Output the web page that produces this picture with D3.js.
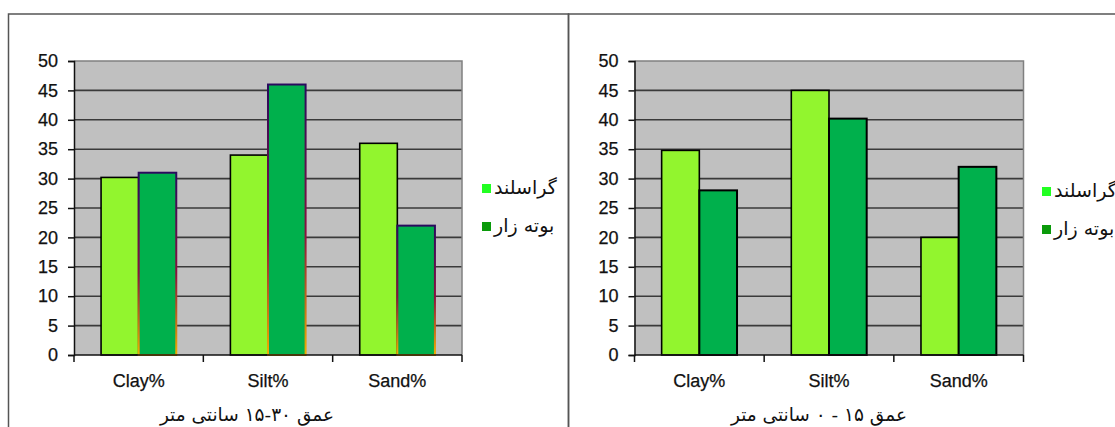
<!DOCTYPE html>
<html>
<head>
<meta charset="utf-8">
<script src="https://cdn.jsdelivr.net/npm/d3@7"></script>
<style>
  body { margin: 0; background: #fff; }
  svg { display: block; }
</style>
</head>
<body>
<svg id="chart" width="1115" height="427"></svg>
<script>
// categories and series
var categories = ["Clay%", "Silt%", "Sand%"];
var seriesNames = ["گراسلند", "بوته زار"];
var yTicks = [0, 5, 10, 15, 20, 25, 30, 35, 40, 45, 50];

// depth 15-30 cm (left chart)
var grassDeep = [30.2, 34, 36];
var shrubDeep = [31, 46, 22];
// depth 0-15 cm (right chart)
var grassTop = [34.8, 45, 20];
var shrubTop = [28, 40.2, 32];

var titleDeep = "عمق ۳۰-۱۵ سانتی متر";
var titleTop = "عمق ۱۵ - ۰ سانتی متر";

var svg = d3.select("#chart");

// gradient used for the odd border on the left chart's dark bars
var defs = svg.append("defs");
var grad = defs.append("linearGradient").attr("id", "edgeGrad")
    .attr("x1", 0).attr("y1", 0).attr("x2", 0).attr("y2", 1);
grad.append("stop").attr("offset", "0%").attr("stop-color", "#2a0a5e");
grad.append("stop").attr("offset", "55%").attr("stop-color", "#8a1040");
grad.append("stop").attr("offset", "100%").attr("stop-color", "#f0b000");

// panel frames
svg.append("rect").attr("x", 8.5).attr("y", 14).attr("width", 560).attr("height", 440)
    .attr("fill", "none").attr("stroke", "#555").attr("stroke-width", 1.5);
svg.append("rect").attr("x", 568.5).attr("y", 14).attr("width", 600).attr("height", 440)
    .attr("fill", "none").attr("stroke", "#555").attr("stroke-width", 1.5);

function drawPanel(opt){
    var g = svg.append("g");
    var x = d3.scaleBand().domain(categories).range([opt.left, opt.right]).padding(0);
    var xs = d3.scaleBand().domain([0, 1]).range([0, x.bandwidth()]).paddingInner(0).paddingOuter(0.72);
    var y = d3.scaleLinear().domain([0, 50]).range([opt.bottom, opt.top]);

    // plot area
    g.append("rect").attr("x", opt.left).attr("y", opt.top)
        .attr("width", opt.right - opt.left).attr("height", opt.bottom - opt.top)
        .attr("fill", "#c0c0c0");

    // gridlines
    g.selectAll("line.grid").data(yTicks.filter(function(d){ return d > 0 && d < 50; }))
        .enter().append("line").attr("class", "grid")
        .attr("x1", opt.left).attr("x2", opt.right)
        .attr("y1", function(d){ return y(d); }).attr("y2", function(d){ return y(d); })
        .attr("stroke", "#3a3a3a").attr("stroke-width", 1.6);

    // plot border (top / right)
    g.append("path")
        .attr("d", "M" + opt.left + "," + opt.top + "H" + opt.right + "V" + opt.bottom)
        .attr("fill", "none").attr("stroke", "#808080").attr("stroke-width", 1.5);

    // bars
    var rows = categories.map(function(c, i){ return [opt.a[i], opt.b[i]]; });
    var groups = g.selectAll("g.cat").data(rows).enter().append("g")
        .attr("transform", function(d, i){ return "translate(" + x(categories[i]) + ",0)"; });
    groups.selectAll("rect").data(function(d){ return d; }).enter().append("rect")
        .attr("x", function(d, j){ return xs(j); })
        .attr("y", function(d){ return y(d); })
        .attr("width", xs.bandwidth())
        .attr("height", function(d){ return y(0) - y(d); })
        .attr("fill", function(d, j){ return j === 0 ? "#92f52e" : "#00b04c"; })
        .attr("stroke", function(d, j){ return (j === 1 && opt.oddEdge) ? "url(#edgeGrad)" : "#000"; })
        .attr("stroke-width", function(d, j){ return j === 1 ? 2 : 1.6; });

    // y axis
    var yAxis = d3.axisLeft(y).tickValues(yTicks).tickSize(6).tickPadding(10);
    var ya = g.append("g").attr("transform", "translate(" + opt.left + ",0)").call(yAxis);
    ya.select(".domain").attr("stroke", "#111").attr("stroke-width", 1.5);
    ya.selectAll(".tick line").attr("stroke", "#111").attr("stroke-width", 1.5);
    ya.selectAll(".tick text").attr("font-family", "Liberation Sans, Arial, sans-serif")
        .attr("font-size", 18).attr("fill", "#111")
        .attr("stroke", "#111").attr("stroke-width", 0.25);

    // x axis: ticks at category boundaries
    var xa = g.append("g").attr("transform", "translate(0," + opt.bottom + ")");
    xa.append("line").attr("x1", opt.left).attr("x2", opt.right)
        .attr("stroke", "#111").attr("stroke-width", 1.5);
    var bounds = categories.map(function(c){ return x(c); }).concat([opt.right]);
    xa.selectAll("line.tk").data(bounds).enter().append("line").attr("class", "tk")
        .attr("x1", function(d){ return d; }).attr("x2", function(d){ return d; })
        .attr("y1", 0).attr("y2", 7).attr("stroke", "#111").attr("stroke-width", 1.5);
    xa.selectAll("text").data(categories).enter().append("text")
        .attr("x", function(d){ return x(d) + x.bandwidth() / 2; })
        .attr("y", 32)
        .attr("text-anchor", "middle")
        .attr("font-family", "Liberation Sans, Arial, sans-serif")
        .attr("font-size", 18).attr("fill", "#111")
        .attr("stroke", "#111").attr("stroke-width", 0.25)
        .text(function(d){ return d; });

    // title
    g.append("text").attr("x", opt.titleX).attr("y", 421)
        .attr("text-anchor", "middle").attr("direction", "rtl")
        .attr("font-family", "DejaVu Sans, sans-serif").attr("font-size", 18.5).attr("fill", "#111")
        .text(opt.title);

    // legend
    var colors = ["#22ff22", "#0a9a0a"];
    var lg = g.selectAll("g.leg").data(seriesNames).enter().append("g")
        .attr("transform", function(d, i){ return "translate(" + opt.legX + "," + (opt.legY + i * 38) + ")"; });
    lg.append("rect").attr("x", 0).attr("y", -4).attr("width", 9).attr("height", 9)
        .attr("fill", function(d, i){ return colors[i]; });
    lg.append("text").attr("x", 12).attr("y", 6)
        .attr("font-family", "DejaVu Sans, sans-serif").attr("font-size", 19).attr("fill", "#111")
        .text(function(d){ return d; });
}

drawPanel({ left: 74, right: 462, top: 61, bottom: 355, a: grassDeep, b: shrubDeep,
    oddEdge: true, title: titleDeep, titleX: 247, legX: 482, legY: 188 });
drawPanel({ left: 634.5, right: 1023.5, top: 61, bottom: 355, a: grassTop, b: shrubTop,
    oddEdge: false, title: titleTop, titleX: 819, legX: 1042, legY: 191 });
</script>
</body>
</html>
